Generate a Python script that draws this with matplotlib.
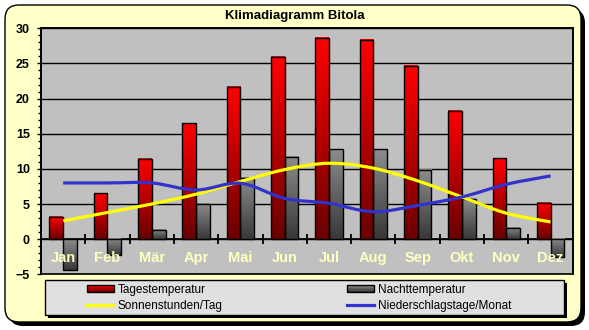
import matplotlib
matplotlib.use("Agg")
import matplotlib.pyplot as plt
import numpy as np
from matplotlib.patches import FancyBboxPatch, Rectangle, PathPatch
from matplotlib.path import Path
from matplotlib.lines import Line2D
from matplotlib.legend_handler import HandlerBase
from matplotlib.colors import LinearSegmentedColormap, to_rgb
from matplotlib.ticker import MultipleLocator, FixedLocator, NullLocator

plt.rcParams['font.family'] = ['Liberation Sans', 'DejaVu Sans']

# ---- data ----
months = ["Jan", "Feb", "Mär", "Apr", "Mai", "Jun", "Jul", "Aug", "Sep", "Okt", "Nov", "Dez"]
tagestemp = [3.2, 6.5, 11.4, 16.5, 21.7, 25.9, 28.6, 28.4, 24.7, 18.3, 11.5, 5.2]
nachttemp = [-4.4, -2.3, 1.3, 5.0, 8.7, 11.7, 12.8, 12.8, 9.9, 5.7, 1.6, -2.6]
sonnenstunden = [2.6, 3.8, 5.0, 6.4, 8.2, 9.9, 10.8, 10.1, 8.3, 6.0, 3.7, 2.45]
niederschlagstage = [8, 8, 8, 7.0, 7.95, 5.8, 5.1, 3.9, 4.8, 6.0, 7.8, 9.0]
title = "Klimadiagramm Bitola"
labels = ["Tagestemperatur", "Nachttemperatur", "Sonnenstunden/Tag", "Niederschlagstage/Monat"]

W, H = 589, 330
fig = plt.figure(figsize=(W / 100, H / 100), dpi=100)
fig.patch.set_facecolor("white")

def px(v):
    return v / 100.0

# background rounded box with shadow
sh = FancyBboxPatch((px(9), px(H - 326)), px(576), px(317),
                    boxstyle="round,pad=0,rounding_size=0.14",
                    transform=fig.dpi_scale_trans, facecolor="black",
                    edgecolor="black", lw=0, zorder=-20)
bg = FancyBboxPatch((px(5), px(H - 322)), px(576), px(317),
                    boxstyle="round,pad=0,rounding_size=0.14",
                    transform=fig.dpi_scale_trans, facecolor="#FFFFC8",
                    edgecolor="black", lw=1, zorder=-19)
fig.add_artist(sh)
fig.add_artist(bg)

# legend box with shadow
lsh = Rectangle((px(48), px(H - 318)), px(519), px(35),
                transform=fig.dpi_scale_trans, facecolor="black", lw=0, zorder=-18)
lbx = Rectangle((px(45), px(H - 315)), px(519), px(35),
                transform=fig.dpi_scale_trans, facecolor="#E0E0E0",
                edgecolor="black", lw=1, zorder=-17)
fig.add_artist(lsh)
fig.add_artist(lbx)

fig.text(0.5, 1 - 15.7 / H, title, ha="center", va="center",
         fontsize=9.5, fontweight="bold")

ax = fig.add_axes([41 / W, 1 - 274.3 / H, (572.7 - 41) / W, (274.3 - 28.3) / H])
ax.set_facecolor("#C0C0C0")
ax.patch.set_edgecolor("black")
ax.patch.set_linewidth(1.2)

x = np.arange(len(months))
bw = 0.31

red_cmap = LinearSegmentedColormap.from_list("r", ["#FF0000", "#6A0000"])
gray_cmap = LinearSegmentedColormap.from_list("g", ["#8C8C8C", "#383838"])
grad = np.linspace(0, 1, 64).reshape(-1, 1)

bars_t = ax.bar(x - bw / 2, tagestemp, bw, facecolor="none", edgecolor="black", lw=1, zorder=3)
bars_n = ax.bar(x + bw / 2, nachttemp, bw, facecolor="none", edgecolor="black", lw=1, zorder=3)
for bars, cm in ((bars_t, red_cmap), (bars_n, gray_cmap)):
    for b in bars:
        x0, y0 = b.get_x(), b.get_y()
        w, h = b.get_width(), b.get_height()
        ylo, yhi = min(y0, y0 + h), max(y0, y0 + h)
        ax.imshow(grad, cmap=cm, extent=[x0, x0 + w, ylo, yhi], aspect="auto",
                  origin="upper", zorder=2.5, interpolation="bilinear")

def smooth_path(xs, ys):
    pts = np.column_stack([xs, ys]).astype(float)
    n = len(pts)
    verts = [pts[0]]
    codes = [Path.MOVETO]
    for i in range(n - 1):
        p0 = pts[i - 1] if i > 0 else pts[i]
        p1 = pts[i]
        p2 = pts[i + 1]
        p3 = pts[i + 2] if i + 2 < n else pts[i + 1]
        c1 = p1 + (p2 - p0) / 6.0
        c2 = p2 - (p3 - p1) / 6.0
        verts += [c1, c2, p2]
        codes += [Path.CURVE4] * 3
    return Path(verts, codes)

ax.add_patch(PathPatch(smooth_path(x, sonnenstunden), facecolor="none",
                       edgecolor="#FFFF00", lw=2.3, zorder=4, capstyle="butt"))
ax.add_patch(PathPatch(smooth_path(x, niederschlagstage), facecolor="none",
                       edgecolor="#3333CC", lw=2.3, zorder=4, capstyle="butt"))

ax.set_xlim(-0.5, 11.5)
ax.set_ylim(-5, 30)

# y axis
ax.yaxis.set_major_locator(MultipleLocator(5))
ax.yaxis.set_minor_locator(MultipleLocator(1))
ax.tick_params(axis="y", which="major", length=3, width=1, pad=5,
               labelsize=9, direction="out")
ax.tick_params(axis="y", which="minor", length=2, width=1, direction="out")
for t in ax.get_yticklabels():
    t.set_fontweight("bold")
ax.yaxis.grid(True, which="major", color="black", lw=1)
ax.set_axisbelow(True)

# x axis at 0
ax.spines["bottom"].set_position(("data", 0))
ax.spines["bottom"].set_zorder(2)
for s in ("left", "right", "top", "bottom"):
    ax.spines[s].set_linewidth(1.2)
ax.xaxis.set_major_locator(NullLocator())
ax.xaxis.set_minor_locator(FixedLocator(np.arange(0.5, 11.0, 1.0)))
ax.tick_params(axis="x", which="minor", length=7, width=1.3, direction="inout")

# month labels drawn above the bars
for xi, m in zip(x, months):
    ax.text(xi, -2.65, m, ha="center", va="center", fontsize=10.5,
            fontweight="bold", color="#FFFFC0", zorder=6)

# legend
class GradHandler(HandlerBase):
    def __init__(self, top, bottom, n=10):
        super().__init__()
        self.top = np.array(to_rgb(top))
        self.bottom = np.array(to_rgb(bottom))
        self.n = n

    def create_artists(self, legend, orig_handle, xdescent, ydescent, width,
                       height, fontsize, trans):
        arts = []
        for k in range(self.n):
            f = k / (self.n - 1)
            c = self.top * (1 - f) + self.bottom * f
            r = Rectangle((-xdescent, -ydescent + height * (1 - (k + 1) / self.n)),
                          width, height / self.n, facecolor=c, edgecolor="none",
                          transform=trans)
            arts.append(r)
        arts.append(Rectangle((-xdescent, -ydescent), width, height,
                              facecolor="none", edgecolor="black", lw=1,
                              transform=trans))
        return arts

h_t = Rectangle((0, 0), 1, 1)
h_n = Rectangle((0, 0), 1, 1)
h_s = Line2D([], [], color="#FFFF00", lw=2.3)
h_r = Line2D([], [], color="#3333CC", lw=2.3)

common = dict(loc="upper left", frameon=False, fontsize=8.5, borderpad=0,
              borderaxespad=0, handlelength=2.29, handleheight=0.62,
              handletextpad=0.3, labelspacing=0.4)
fig.legend([h_t, h_s], [labels[0], labels[2]], bbox_to_anchor=(87 / W, 1 - 283.5 / H),
           handler_map={h_t: GradHandler("#FF0000", "#700000")}, **common)
fig.legend([h_n, h_r], [labels[1], labels[3]], bbox_to_anchor=(347 / W, 1 - 283.5 / H),
           handler_map={h_n: GradHandler("#8C8C8C", "#383838")}, **common)

fig.savefig("out.png", dpi=100)
